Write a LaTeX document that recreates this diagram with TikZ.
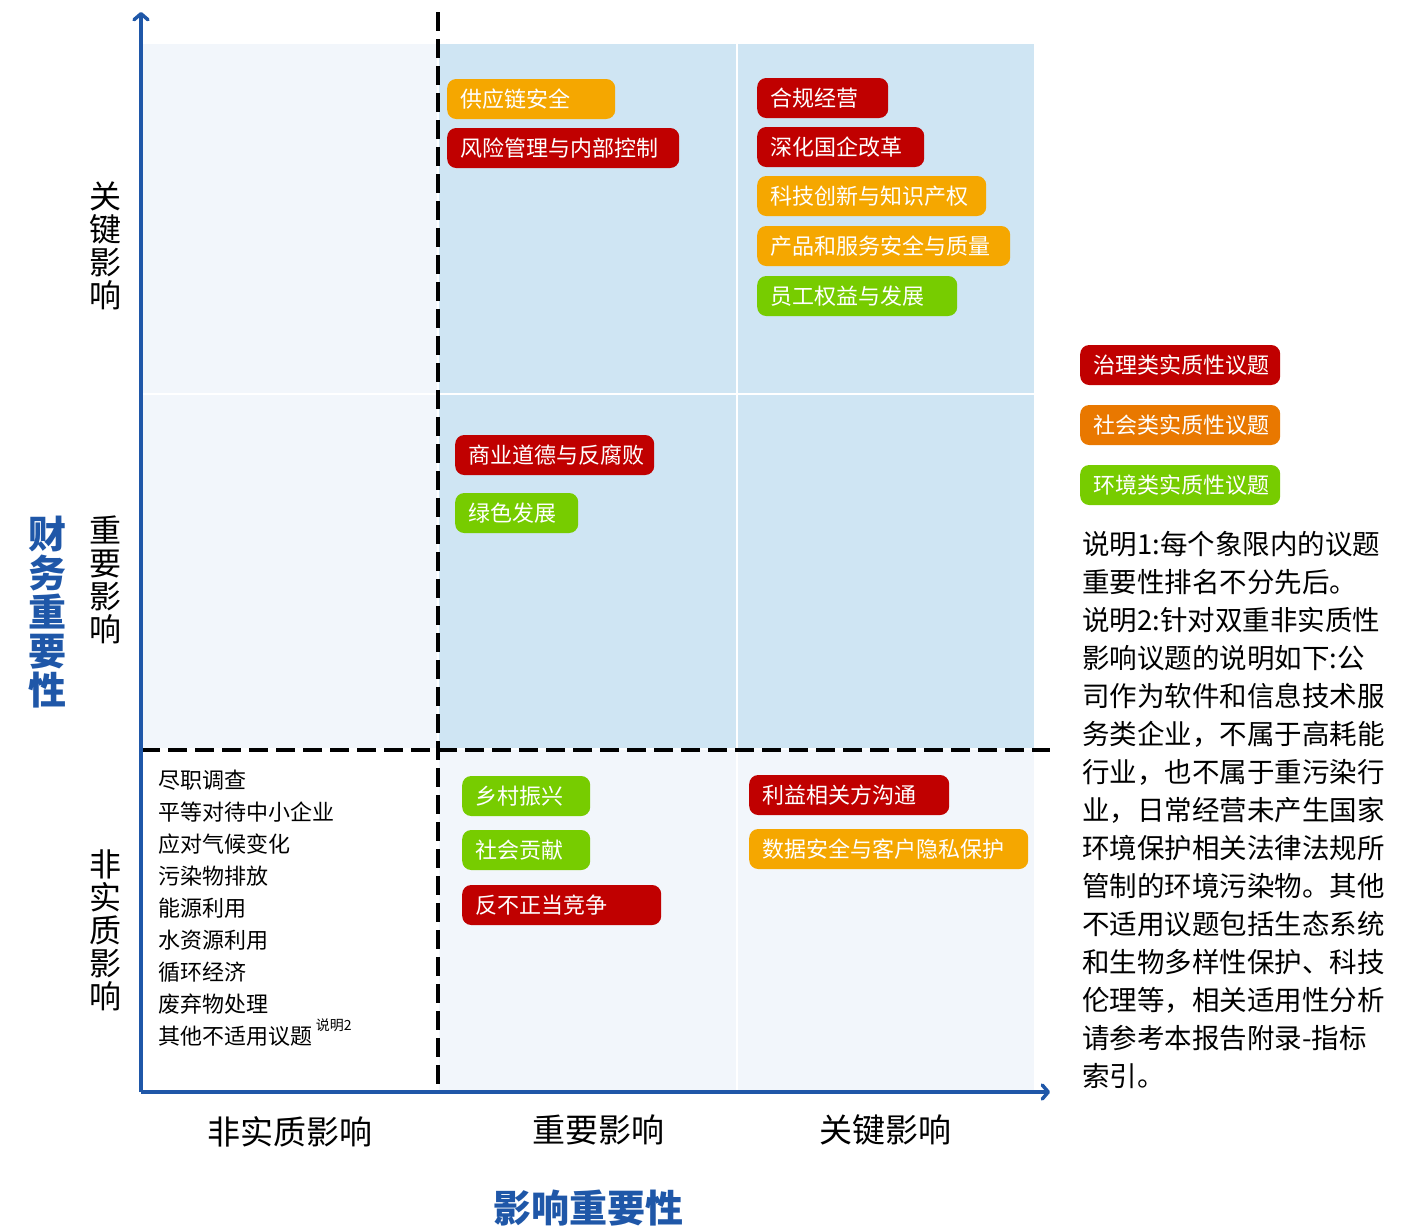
\documentclass[tikz,border=0pt]{standalone}
\usepackage{fontspec}
\setmainfont{Noto Sans CJK SC}
\usetikzlibrary{arrows.meta,positioning}

\definecolor{govred}{HTML}{C00000}
\definecolor{socorange}{HTML}{F5A700}
\definecolor{legorange}{HTML}{E97800}
\definecolor{envgreen}{HTML}{77CC00}
\definecolor{cellblue}{HTML}{CFE5F3}
\definecolor{cellpale}{HTML}{F2F6FB}
\definecolor{axisblue}{HTML}{1F57A8}

\tikzset{
  pill/.style={rounded corners=9pt, text=white, anchor=west, minimum height=40pt,
    inner xsep=13pt, inner ysep=0pt, align=left, font=\fontsize{22}{26}\selectfont},
  gov/.style={pill, fill=govred},
  soc/.style={pill, fill=socorange},
  env/.style={pill, fill=envgreen},
  ticklabel/.style={font=\fontsize{33}{33}\selectfont, inner sep=0pt},
  rowlabel/.style={font=\fontsize{32}{33}\selectfont, align=center, inner sep=0pt},
  axistitle/.style={text=axisblue, font=\fontsize{38}{39}\bfseries\selectfont, inner sep=0pt, align=center},
  quadline/.style={line width=3.5pt, dash pattern=on 19pt off 8pt},
  axis/.style={draw=axisblue, line width=3.5pt, -{Straight Barb[round,length=6pt,width=14pt]}},
}

\begin{document}
\begin{tikzpicture}[x=1pt,y=-1pt]
	\useasboundingbox (0,0) rectangle (1419,1227);
	
	% quadrant cells
	\fill[cellpale] (141,44) rectangle (437,393);
	\fill[cellpale] (141,395) rectangle (437,748);
	\fill[cellblue] (439,44) rectangle (736,393);
	\fill[cellblue] (738,44) rectangle (1034,393);
	\fill[cellblue] (439,395) rectangle (736,748);
	\fill[cellblue] (738,395) rectangle (1034,748);
	\fill[cellpale] (439,750) rectangle (736,1090);
	\fill[cellpale] (738,750) rectangle (1034,1090);
	
	\coordinate (origin) at (141,1092);
	\coordinate (ytip) at (141,12);
	\coordinate (xtip) at (1050,1092);
	\coordinate (vtop) at (438,12);
	\coordinate (vbot) at (438,1085);
	\coordinate (hleft) at (141,750);
	\coordinate (hright) at (1050,750);
	
	\draw[quadline] (vtop) -- (vbot);
	\draw[quadline] (hleft) -- (hright);
	\draw[axis] (origin) -- (ytip);
	\draw[axis] (origin) -- (xtip);
	
	% topics
	\node[soc, text width=142] (supply) at (447,99) {供应链安全};
	\node[gov, text width=206] (risk) at (447,148) {风险管理与内部控制};
	\node[gov, text width=105] (comply) at (757,98) {合规经营};
	\node[gov, text width=141] (reform) at (757,147) {深化国企改革};
	\node[soc, text width=203] (innov) at (757,196) {科技创新与知识产权};
	\node[soc, text width=227] (quality) at (757,246) {产品和服务安全与质量};
	\node[env, text width=174] (staff) at (757,296) {员工权益与发展};
	\node[gov, text width=173] (ethics) at (455,455) {商业道德与反腐败};
	\node[env, text width=97] (green) at (455,513) {绿色发展};
	\node[env, text width=102] (rural) at (462,796) {乡村振兴};
	\node[env, text width=102] (contrib) at (462,850) {社会贡献};
	\node[gov, text width=173] (compete) at (462,905) {反不正当竞争};
	\node[gov, text width=174] (stake) at (749,795) {利益相关方沟通};
	\node[soc, text width=253] (datasec) at (749,849) {数据安全与客户隐私保护};
	
	\node[anchor=north west, align=left, inner sep=0pt, font=\fontsize{22}{32}\selectfont] (others) at (158,770)
		{尽职调查\\平等对待中小企业\\应对气候变化\\污染物排放\\能源利用\\水资源利用\\循环经济\\废弃物处理\\
		其他不适用议题\,\raisebox{14pt}{\fontsize{14}{14}\selectfont 说明2}};
	
	% legend
	\node[gov, text width=174] (leggov) at (1080,365) {治理类实质性议题};
	\node[pill, fill=legorange, text width=174] (legsoc) at (1080,425) {社会类实质性议题};
	\node[env, text width=174] (legenv) at (1080,485) {环境类实质性议题};
	
	\node[anchor=north west, align=left, inner sep=0pt, font=\fontsize{27.5}{38}\selectfont] (note) at (1082,531)
		{说明1:每个象限内的议题\\重要性排名不分先后。\\说明2:针对双重非实质性\\影响议题的说明如下:公\\
		司作为软件和信息技术服\\务类企业，不属于高耗能\\行业，也不属于重污染行\\业，日常经营未产生国家\\
		环境保护相关法律法规所\\管制的环境污染物。其他\\不适用议题包括生态系统\\和生物多样性保护、科技\\
		伦理等，相关适用性分析\\请参考本报告附录-指标\\索引。};
	
	% axis labels
	\node[rowlabel] (rowkey) at (105,246) {关\\键\\影\\响};
	\node[rowlabel] (rowmid) at (105,580) {重\\要\\影\\响};
	\node[rowlabel] (rowlow) at (105,930) {非\\实\\质\\影\\响};
	\node[ticklabel] (collow) at (290,1132) {非实质影响};
	\node[ticklabel] (colmid) at (598,1130) {重要影响};
	\node[ticklabel] (colkey) at (885,1130) {关键影响};
	\node[axistitle] (fintitle) at (47,612) {财\\务\\重\\要\\性};
	\node[axistitle] (imptitle) at (588,1208) {影响重要性};
\end{tikzpicture}
\end{document}
